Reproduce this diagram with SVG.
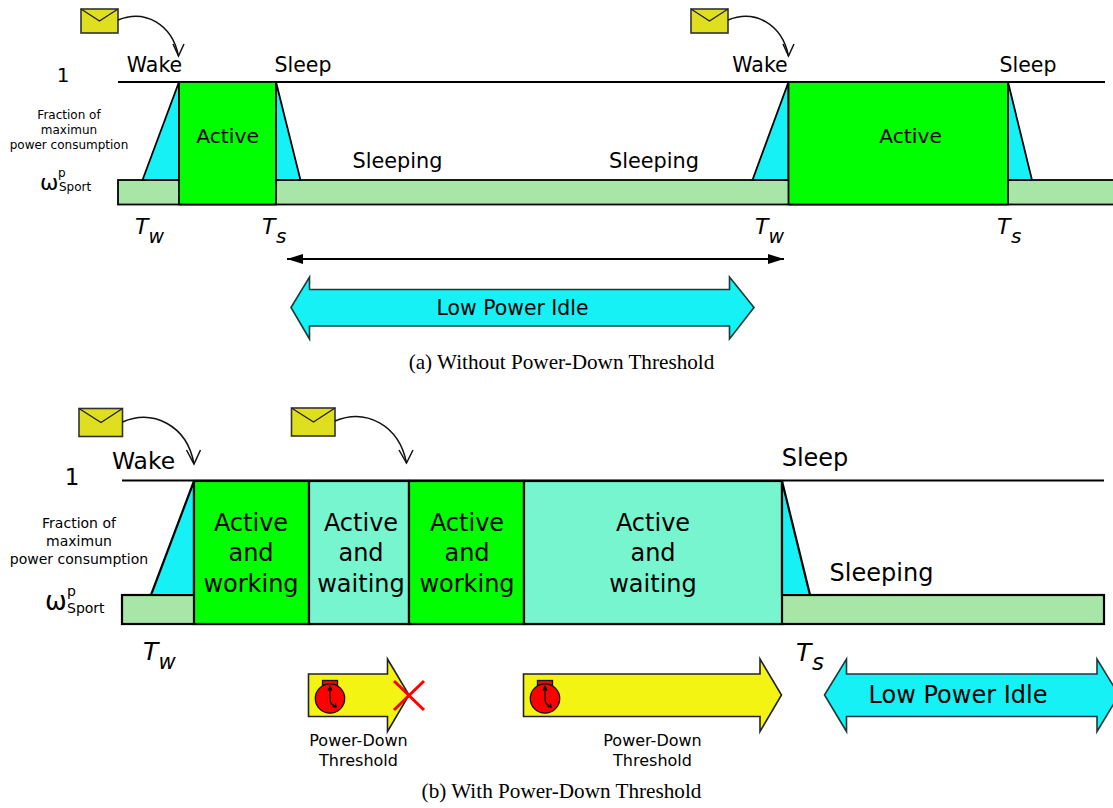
<svg xmlns="http://www.w3.org/2000/svg" width="1113" height="808" viewBox="0 0 1113 808">
<style>
text{font-family:"DejaVu Sans",sans-serif;fill:#000;text-anchor:middle}
.s{text-anchor:start}
.i{font-style:italic}
.cap{font-family:"Liberation Serif",serif;font-size:21.2px}
.a{stroke:#000;stroke-width:1.8}
.b{stroke:#000;stroke-width:2.2}
.act{fill:#00ff00}
.wait{fill:#76f5cf}
.low{fill:#a8e6a8}
.tr{fill:#16f1f5}
.lpi{fill:#16f1f5;stroke:#1a3a3a;stroke-width:1.6}
.yel{fill:#f4f412;stroke:#222;stroke-width:1.6}
.env{fill:#dfdf1f;stroke:#333;stroke-width:1.6}
.fl{fill:none;stroke:#222;stroke-width:1.4}
.cv{fill:none;stroke:#111;stroke-width:1.5}
.ck{fill:#ff0000;stroke:#111;stroke-width:1.3}
.hd{fill:none;stroke:#000;stroke-width:1.3}
</style>
<defs>
<marker id="ah" viewBox="0 0 10 10" refX="10" refY="5" markerWidth="16" markerHeight="10" markerUnits="userSpaceOnUse" orient="auto-start-reverse" preserveAspectRatio="none"><path d="M0 0L10 5L0 10Z" fill="#000"/></marker>
<g id="clock"><rect class="ck" x="-7.500" y="-18" width="15" height="6"/><circle class="ck" cx="0" cy="0" r="14.700"/><path class="hd" d="M0 1V-11M-2-8L0-12L2-8M0 1L1 5L5.500 8M2.500 8L6 8.500L5.500 5"/></g>
</defs>

<g id="panel-a">
<g id="a-baseline"><path class="a" d="M118 82H1105" fill="none"/><rect class="low a" x="118" y="180" width="1005" height="24.500"/></g>
<g id="a-wake1"><path class="tr a" d="M142.500 180L179 82V180Z"/><text x="154.500" y="72" font-size="20.500">Wake</text></g>
<g id="a-active1"><rect class="act a" x="179" y="82" width="97" height="122.500"/><text x="227.500" y="143" font-size="20.300">Active</text></g>
<g id="a-sleep1"><path class="tr a" d="M276 82L300.500 180H276Z"/><text x="303" y="72" font-size="20.500">Sleep</text></g>
<g id="a-sleeping1"><text x="397.500" y="167.500" font-size="20.800">Sleeping</text></g>
<g id="a-sleeping2"><text x="654" y="167.500" font-size="20.800">Sleeping</text></g>
<g id="a-wake2"><path class="tr a" d="M752.500 180L788.500 82V180Z"/><text x="760" y="72" font-size="20.500">Wake</text></g>
<g id="a-active2"><rect class="act a" x="788.500" y="82" width="219.500" height="122.500"/><text x="910.500" y="143" font-size="20.300">Active</text></g>
<g id="a-sleep2"><path class="tr a" d="M1008 82L1032 180H1008Z"/><text x="1028" y="72" font-size="20.500">Sleep</text></g>
<g id="a-axis">
<text x="63" y="82" font-size="20">1</text>
<text x="69" y="119" font-size="12">Fraction of</text>
<text x="69" y="134" font-size="12">maximun</text>
<text x="69" y="149" font-size="12">power consumption</text>
<text class="s" x="40" y="190" font-size="22">ω</text><text class="s" x="58" y="177" font-size="12">p</text><text class="s" x="59" y="191" font-size="12">Sport</text>
</g>
<g id="a-times">
<text class="s i" x="135" y="234" font-size="22">T</text><text class="s i" x="148.500" y="243" font-size="19">w</text>
<text class="s i" x="262" y="234" font-size="22">T</text><text class="s i" x="276" y="243" font-size="20">s</text>
<text class="s i" x="755" y="234" font-size="22">T</text><text class="s i" x="768.500" y="243" font-size="19">w</text>
<text class="s i" x="997" y="234" font-size="22">T</text><text class="s i" x="1011" y="243" font-size="20">s</text>
</g>
<g id="a-mail1"><rect class="env" x="81" y="9" width="37" height="24"/><path class="fl" d="M81 9L99.500 21L118 9"/></g>
<g id="a-mail2"><rect class="env" x="691" y="9" width="37" height="24"/><path class="fl" d="M691 9L709.500 21L728 9"/></g>
<g id="a-lpi"><path class="lpi" d="M291 307.500L309.500 277V289.500H729.500V277L754 307.500L729.500 339V326H309.500V339Z"/><text x="512.500" y="315" font-size="20.400">Low Power Idle</text></g>
<text class="cap" x="561.500" y="369">(a) Without Power-Down Threshold</text>
</g>

<g id="panel-b">
<g id="b-baseline"><path class="b" d="M122 480.500H1104" fill="none"/><rect class="low b" x="122" y="595" width="982" height="29"/></g>
<g id="b-wake"><path class="tr b" d="M151 595L194 481V595Z"/><text x="143.500" y="468.500" font-size="23.400">Wake</text></g>
<g id="b-active1"><rect class="act b" x="194" y="481" width="115" height="143"/><text x="251" y="530.500" font-size="24">Active</text><text x="251" y="561" font-size="24">and</text><text x="251" y="591.500" font-size="24">working</text></g>
<g id="b-wait1"><rect class="wait b" x="309" y="481" width="100" height="143"/><text x="361" y="530.500" font-size="24">Active</text><text x="361" y="561" font-size="24">and</text><text x="361" y="591.500" font-size="24">waiting</text></g>
<g id="b-active2"><rect class="act b" x="409" y="481" width="115" height="143"/><text x="467" y="530.500" font-size="24">Active</text><text x="467" y="561" font-size="24">and</text><text x="467" y="591.500" font-size="24">working</text></g>
<g id="b-wait2"><rect class="wait b" x="524" y="481" width="258" height="143"/><text x="653" y="530.500" font-size="24">Active</text><text x="653" y="561" font-size="24">and</text><text x="653" y="591.500" font-size="24">waiting</text></g>
<g id="b-sleep"><path class="tr b" d="M782 481L810 595H782Z"/><text x="815" y="466" font-size="24">Sleep</text></g>
<g id="b-sleeping"><text x="881.500" y="581" font-size="24">Sleeping</text></g>
<g id="b-axis">
<text x="72" y="485" font-size="23">1</text>
<text x="79" y="528" font-size="14">Fraction of</text>
<text x="79" y="546" font-size="14">maximun</text>
<text x="79" y="564" font-size="14">power consumption</text>
<text class="s" x="45" y="610" font-size="26">ω</text><text class="s" x="67" y="596" font-size="14">p</text><text class="s" x="67" y="613" font-size="14">Sport</text>
</g>
<g id="b-times">
<text class="s i" x="143" y="660" font-size="25">T</text><text class="s i" x="158.500" y="669" font-size="21">w</text>
<text class="s i" x="796" y="661" font-size="25">T</text><text class="s i" x="812" y="670" font-size="23">s</text>
</g>
<g id="b-mail1"><rect class="env" x="79" y="408.500" width="43.500" height="28"/><path class="fl" d="M79 408.500L101 422.500L122.500 408.500"/></g>
<g id="b-mail2"><rect class="env" x="291.500" y="408" width="43.500" height="28"/><path class="fl" d="M291.500 408L313.500 422L335 408"/></g>
<g id="b-threshold1"><path class="yel" d="M308.500 674H387.500V659L409 695L387.500 731.500V716.500H308.500Z"/><use href="#clock" x="330" y="698.500"/><path d="M394 681L424 710M424 681L394 710" stroke="#ff0000" stroke-width="3" fill="none"/><text x="358.500" y="746" font-size="16">Power-Down</text><text x="358.500" y="766" font-size="16">Threshold</text></g>
<g id="b-threshold2"><path class="yel" d="M523.500 674H760V659L781.500 695L760 731.500V716.500H523.500Z"/><use href="#clock" x="545" y="698.500"/><text x="652.500" y="746" font-size="16">Power-Down</text><text x="652.500" y="766" font-size="16">Threshold</text></g>
<g id="b-lpi"><path class="lpi" d="M824.500 695L846.500 659V674H1097V659L1119 695L1097 731.500V716.500H846.500V731.500Z"/><text x="958" y="702.500" font-size="24">Low Power Idle</text></g>
<text class="cap" x="561.500" y="798">(b) With Power-Down Threshold</text>
</g>

<g id="connectors">
<path class="cv" d="M118 20C145 9 172 24 178.500 56"/><path class="cv" d="M173 44L178.500 56L184 44"/>
<path class="cv" d="M728 20C755 9 782 24 788.500 56"/><path class="cv" d="M783 44L788.500 56L794 44"/>
<path class="cv" d="M122.500 422C153 409 187 425 194 464"/><path class="cv" d="M186.500 450L194 464L200.500 450"/>
<path class="cv" d="M335 421C366 408 399 425 406.500 463"/><path class="cv" d="M399 450L406.500 463L413 450"/>
<path d="M287 259H784" fill="none" stroke="#000" stroke-width="1.800" marker-start="url(#ah)" marker-end="url(#ah)"/>
</g>
</svg>
